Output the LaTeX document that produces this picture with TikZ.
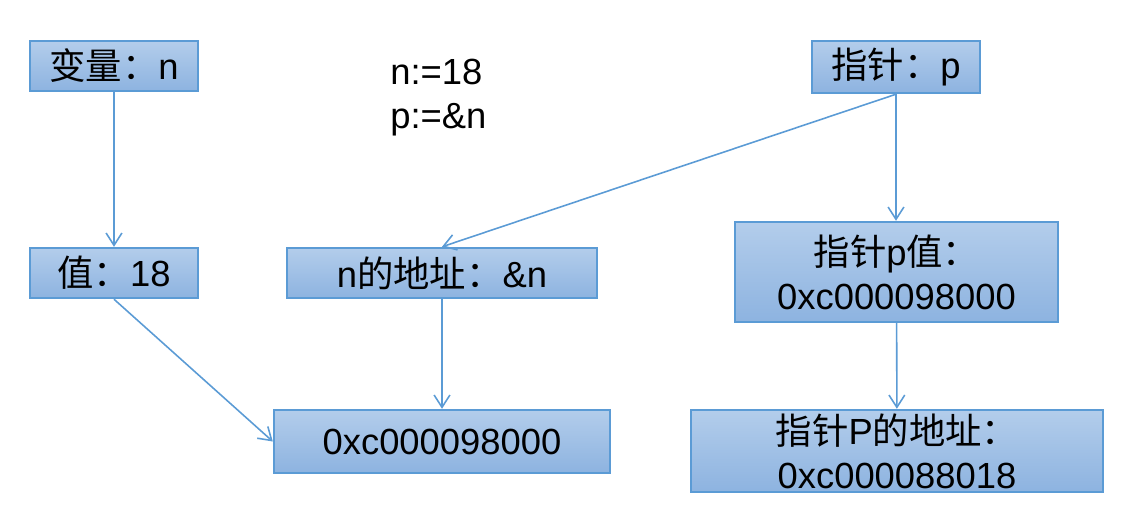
\documentclass[tikz,border=0pt]{standalone}
\usepackage{fontspec}
\setmainfont{Liberation Sans}
\newfontfamily\cjk{Noto Sans CJK SC}
\usepackage{xcolor}
\usepackage{tikz}
\usetikzlibrary{arrows.meta}
\definecolor{boxline}{HTML}{5B9BD5}
\definecolor{boxtop}{HTML}{B3CDEB}
\definecolor{boxbottom}{HTML}{8DB3E0}
\tikzset{
  style box/.style={
    draw=boxline,
    line width=1.4pt,
    top color=boxtop,
    bottom color=boxbottom,
    align=center,
    inner sep=0pt,
  },
  style code/.style={
    anchor=north west,
    inner sep=0pt,
    align=left,
  }
}

\begin{document}
\begin{tikzpicture}[x=0.02cm, y=0.02cm, font=\fontsize{20.7}{25}\selectfont]
                    \useasboundingbox (0,0) rectangle (1122,-514);
                    \begin{scope}[every node/.style={style box}]
                        \node[minimum width=3.36cm, minimum height=1.0cm]  (varn)    at (114  , -66   ) {{\cjk 变量：}n};
                        \node[minimum width=3.36cm, minimum height=1.04cm] (ptrp)    at (896  , -67   ) {{\cjk 指针：}p};
                        \node[minimum width=3.36cm, minimum height=1.0cm]  (val)     at (114  , -273  ) {{\cjk 值：}18};
                        \node[minimum width=6.2cm,  minimum height=1.0cm]  (addr)    at (442  , -273  ) {n{\cjk 的地址：}\&n};
                        \node[minimum width=6.46cm, minimum height=2.0cm]  (ptrval)  at (896.5, -272  ) {{\cjk 指针}p{\cjk 值：}\\0xc000098000};
                        \node[minimum width=6.72cm, minimum height=1.26cm] (mem)     at (442  , -441.5) {0xc000098000};
                        \node[minimum width=8.24cm, minimum height=1.64cm] (ptraddr) at (897  , -451  ) {{\cjk 指针}P{\cjk 的地址：}\\0xc000088018};
                    \end{scope}
                    \node[style code] (assign) at (390, -59) {n:=18\\p:=\&n};
                    \begin{scope}[>={Straight Barb[length=7pt, width=9pt]}, every edge/.style={draw=boxline, line width=0.9pt}]
                        \path [->] (varn) edge (val);
                        \path [->] (val.south) edge (mem.west);

                        \path [->] (addr) edge (mem);

                        \path [->] (ptrp.south) edge (addr.north);
                        \path [->] (ptrp.south) edge (ptrval.north -| ptrp.south);

                        \path [->] (ptrval) edge (ptraddr);
                    \end{scope}
                \end{tikzpicture}
\end{document}
